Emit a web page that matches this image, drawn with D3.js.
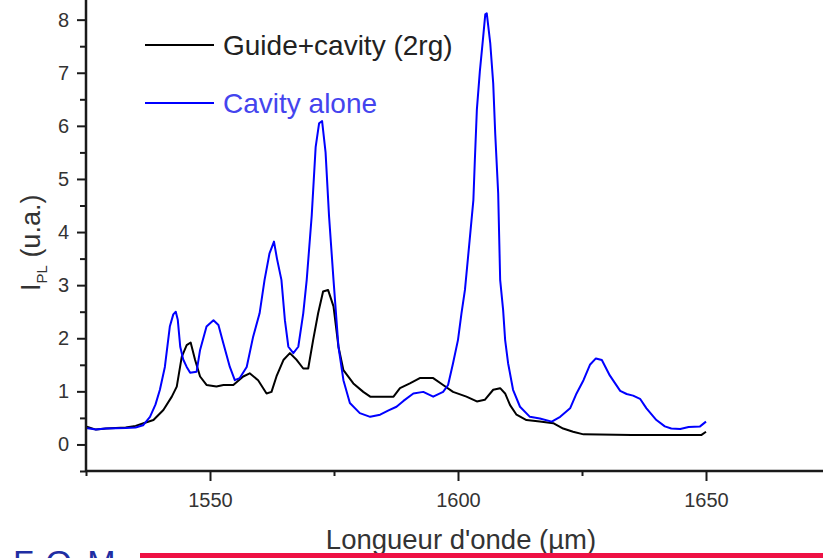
<!DOCTYPE html>
<html>
<head>
<meta charset="utf-8">
<script src="https://cdn.jsdelivr.net/npm/d3@7"></script>
<style>
  html, body { margin: 0; padding: 0; background: #fff; overflow: hidden; }
  svg { display: block; font-family: "Liberation Sans", Arial, sans-serif; }
</style>
</head>
<body>
<svg id="chart" width="823" height="558"></svg>
<script>
// Photoluminescence spectra: guide + cavity vs. cavity alone
const cavityLambda = [1525, 1527, 1529, 1533, 1535, 1536.5, 1537.9, 1539, 1539.9, 1540.9, 1541.9, 1542.6, 1543.1, 1543.5, 1544, 1544.6, 1545.3, 1546, 1547.3, 1548, 1549.3, 1550.7, 1551.7, 1552.7, 1554, 1555, 1556, 1557.4, 1558.7, 1560, 1561, 1562, 1562.9, 1563.5, 1564.4, 1565.1, 1565.8, 1566.8, 1567.8, 1568.8, 1569.5, 1570.5, 1571.3, 1572, 1572.6, 1573.3, 1574, 1574.9, 1575.9, 1576.9, 1578.2, 1580.2, 1582.3, 1584.3, 1586, 1587.6, 1589, 1591, 1593, 1595, 1597, 1598, 1599, 1600, 1600.7, 1601.4, 1602.3, 1603.1, 1603.4, 1603.8, 1604.4, 1605, 1605.5, 1605.8, 1606.5, 1607.1, 1607.5, 1608.1, 1608.5, 1609.1, 1609.5, 1610.1, 1611.1, 1612.5, 1614.5, 1616.5, 1618.9, 1620.6, 1622.6, 1623.9, 1625.3, 1626.6, 1627.8, 1629, 1630.6, 1632.7, 1634, 1635.3, 1636.7, 1638, 1640, 1641.7, 1643, 1644.8, 1646.5, 1648.8, 1650];
const cavityValues = [0.31, 0.28, 0.30, 0.31, 0.32, 0.36, 0.52, 0.75, 1.03, 1.46, 2.22, 2.45, 2.50, 2.35, 1.84, 1.60, 1.46, 1.35, 1.37, 1.78, 2.22, 2.34, 2.25, 1.90, 1.46, 1.21, 1.25, 1.46, 2.03, 2.47, 3.10, 3.60, 3.82, 3.50, 3.10, 2.34, 1.84, 1.72, 1.84, 2.47, 3.10, 4.30, 5.60, 6.05, 6.09, 5.50, 4.30, 3.10, 1.84, 1.21, 0.78, 0.59, 0.52, 0.56, 0.64, 0.71, 0.82, 0.96, 0.99, 0.90, 0.99, 1.12, 1.53, 1.97, 2.47, 2.91, 3.80, 4.60, 5.36, 6.30, 7.02, 7.60, 8.10, 8.12, 7.56, 6.80, 5.86, 4.73, 3.10, 2.53, 1.97, 1.53, 1.03, 0.71, 0.52, 0.49, 0.43, 0.52, 0.68, 0.96, 1.21, 1.50, 1.62, 1.59, 1.30, 1.01, 0.95, 0.92, 0.86, 0.68, 0.46, 0.34, 0.30, 0.29, 0.33, 0.34, 0.43];

const guideLambda = [1525, 1527, 1529, 1533, 1535, 1536.6, 1538.6, 1540.6, 1542.3, 1543.3, 1544.3, 1545.3, 1546.1, 1547, 1548, 1549.3, 1551.3, 1552.7, 1554.7, 1556.7, 1558, 1559.7, 1561.4, 1562.4, 1563.4, 1564.8, 1566.1, 1567.5, 1568.8, 1569.8, 1570.8, 1571.8, 1572.8, 1573.8, 1574.9, 1575.9, 1576.9, 1578.9, 1580.9, 1582.3, 1587, 1588.3, 1590.3, 1592.3, 1595, 1597, 1599, 1601.7, 1603.8, 1605.4, 1607.1, 1608.5, 1609.5, 1610.5, 1611.8, 1613.8, 1616.5, 1619.2, 1621.2, 1623.2, 1625.3, 1635, 1649.1, 1650];
const guideValues = [0.34, 0.28, 0.30, 0.32, 0.35, 0.40, 0.46, 0.65, 0.90, 1.09, 1.65, 1.87, 1.92, 1.59, 1.28, 1.12, 1.09, 1.12, 1.12, 1.28, 1.34, 1.21, 0.96, 0.99, 1.28, 1.59, 1.72, 1.59, 1.43, 1.43, 1.97, 2.47, 2.88, 2.91, 2.60, 1.84, 1.40, 1.15, 0.99, 0.90, 0.90, 1.06, 1.15, 1.25, 1.25, 1.12, 0.99, 0.90, 0.81, 0.84, 1.03, 1.06, 0.96, 0.74, 0.56, 0.46, 0.43, 0.40, 0.30, 0.24, 0.19, 0.18, 0.18, 0.24];

const seriesNames = ["Guide+cavity (2rg)", "Cavity alone"];
const seriesColors = ["#000000", "#0000ff"];
const legendTextColors = ["#222222", "#4444ee"];

const xMajorTicks = [1550, 1600, 1650];
const xMinorTicks = [1525, 1575, 1625, 1675];
const yMajorTicks = [0, 1, 2, 3, 4, 5, 6, 7, 8];
const yMinorTicks = [-0.5, 0.5, 1.5, 2.5, 3.5, 4.5, 5.5, 6.5, 7.5];

const xTitle = "Longueur d'onde (µm)";
const footerText = "F.O.M.";

const svg = d3.select("#chart");
const axisColor = "#1a1a1a";
const labelColor = "#333333";

const x = d3.scaleLinear().domain([1525, 1675]).range([86, 830]);
const y = d3.scaleLinear().domain([-0.5, 8.5]).range([471, -6.9]);

// Curves
const series = [
  { lambda: guideLambda, values: guideValues },
  { lambda: cavityLambda, values: cavityValues }
];
const line = d3.line()
  .x(d => x(d[0]))
  .y(d => y(d[1]));

series.forEach((s, i) => {
  const pts = s.lambda.map((l, k) => [l, s.values[k]]);
  svg.append("path")
    .datum(pts)
    .attr("fill", "none")
    .attr("stroke", seriesColors[i])
    .attr("stroke-width", 2)
    .attr("stroke-linejoin", "round")
    .attr("d", line);
});

// X axis
const xAxisG = svg.append("g").attr("transform", `translate(0,${y(-0.5)})`);
xAxisG.append("g")
  .call(d3.axisBottom(x).tickValues(xMinorTicks).tickSize(5).tickFormat(""))
  .call(g => g.select(".domain").remove());
xAxisG.append("g")
  .call(d3.axisBottom(x).tickValues(xMajorTicks).tickSize(10).tickPadding(12).tickFormat(d3.format("d")))
  .call(g => g.select(".domain").remove())
  .call(g => g.selectAll("text").attr("font-size", 20).attr("fill", labelColor)
    .attr("font-family", "Liberation Sans, Arial, sans-serif"));
xAxisG.selectAll(".tick line").attr("stroke", axisColor).attr("stroke-width", 2);
xAxisG.append("line")
  .attr("x1", x(1525)).attr("x2", 823)
  .attr("y1", 0).attr("y2", 0)
  .attr("stroke", axisColor).attr("stroke-width", 2.5);

// Y axis
const yAxisG = svg.append("g").attr("transform", `translate(${x(1525)},0)`);
yAxisG.append("g")
  .call(d3.axisLeft(y).tickValues(yMinorTicks).tickSize(6).tickFormat(""))
  .call(g => g.select(".domain").remove());
yAxisG.append("g")
  .call(d3.axisLeft(y).tickValues(yMajorTicks).tickSize(9).tickPadding(8).tickFormat(d3.format("d")))
  .call(g => g.select(".domain").remove())
  .call(g => g.selectAll("text").attr("font-size", 20).attr("fill", labelColor)
    .attr("font-family", "Liberation Sans, Arial, sans-serif"));
yAxisG.selectAll(".tick line").attr("stroke", axisColor).attr("stroke-width", 2);
yAxisG.append("line")
  .attr("x1", 0).attr("x2", 0)
  .attr("y1", 0).attr("y2", y(-0.5) + 1)
  .attr("stroke", axisColor).attr("stroke-width", 2.5);

// Axis titles
svg.append("text")
  .attr("x", 461).attr("y", 549)
  .attr("text-anchor", "middle")
  .attr("font-size", 27.5)
  .attr("fill", labelColor)
  .text(xTitle);

const yTitle = svg.append("text")
  .attr("transform", "translate(40,291) rotate(-90)")
  .attr("font-size", 27)
  .attr("fill", labelColor);
yTitle.append("tspan").text("I");
yTitle.append("tspan").attr("font-size", 15).attr("dy", 7).text("PL");
yTitle.append("tspan").attr("dy", -7).text(" (u.a.)");

// Legend
const legendRows = [45, 103];
seriesNames.forEach((name, i) => {
  const ly = legendRows[i];
  svg.append("line")
    .attr("x1", 145).attr("x2", 214)
    .attr("y1", ly).attr("y2", ly)
    .attr("stroke", seriesColors[i]).attr("stroke-width", 2);
  svg.append("text")
    .attr("x", 223).attr("y", ly + 10)
    .attr("font-size", 28)
    .attr("fill", legendTextColors[i])
    .text(name);
});

// Footer band
svg.append("text")
  .attr("x", 13).attr("y", 574)
  .attr("font-size", 34)
  .attr("letter-spacing", 3)
  .attr("fill", "#1f2ea3")
  .text(footerText);
svg.append("rect")
  .attr("x", 140).attr("y", 553)
  .attr("width", 683).attr("height", 6)
  .attr("fill", "#ee1144");
</script>
</body>
</html>
